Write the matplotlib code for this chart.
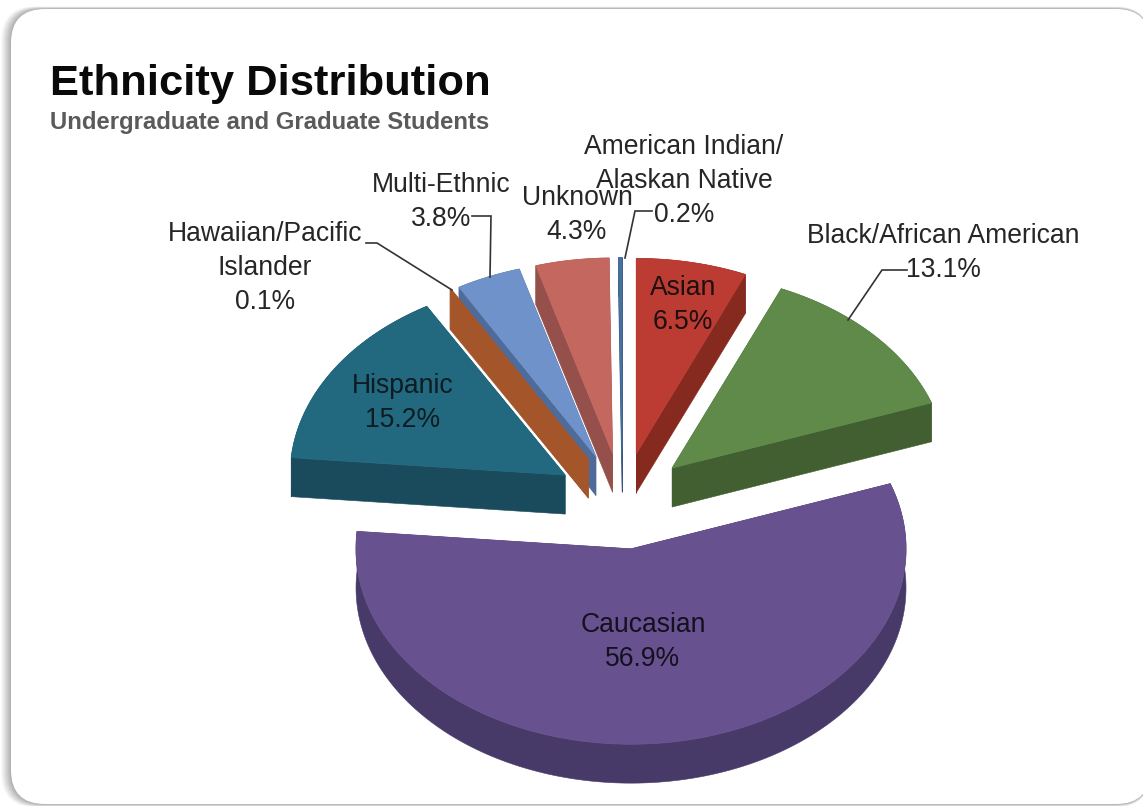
import numpy as np
import matplotlib
matplotlib.use("Agg")
import matplotlib.pyplot as plt
from matplotlib.patches import Polygon, FancyBboxPatch

plt.rcParams['font.family'] = ['Liberation Sans', 'DejaVu Sans']

categories = ["Asian", "Black/African American", "Caucasian", "Hispanic",
              "Hawaiian/Pacific Islander", "Multi-Ethnic", "Unknown",
              "American Indian/Alaskan Native"]
values = [6.5, 13.1, 56.9, 15.2, 0.1, 3.8, 4.3, 0.2]
top_colors = ["#bc3b32", "#5f8a4a", "#67528f", "#22697f", "#a4562a", "#7092ca", "#c4675f", "#46709f"]
wall_colors = ["#86291f", "#425f32", "#483a68", "#1a4b5c", "#a4562a", "#4f6b9a", "#95504c", "#35557c"]
draw_order = [7, 6, 5, 4, 0, 3, 1, 2]

W, H = 1143, 806
CX, CY, RX, SQ, EXPL, DEPTH = 622.5, 501, 275, 0.71, 68, 39

fig = plt.figure(figsize=(W / 100, H / 100), dpi=100, facecolor="white")
ax = fig.add_axes([0, 0, 1, 1])
ax.set_xlim(0, W)
ax.set_ylim(H, 0)
ax.axis("off")

# rounded panel with soft shadow, heavier on the left, thin on the top
PX, PY, PR, PB = 11, 9, 1150, 804
steps = 10
for g in range(steps, 0, -1):
    level = 250 - (steps - g) * 8
    shade = "#%02x%02x%02x" % (level, level, level)
    ax.add_patch(FancyBboxPatch((PX - g, PY - g * 0.25), PR - PX + g, PB - PY + g * 0.25 + g * 0.3,
                                boxstyle="round,pad=0,rounding_size=34", fc=shade, ec="none", zorder=1))
ax.add_patch(FancyBboxPatch((PX, PY), PR - PX, PB - PY, boxstyle="round,pad=0,rounding_size=34",
                            fc="white", ec="none", zorder=1.5))


def pt(ang, r, ox, oy):
    """Clockwise-from-top angle (radians) to pixel position."""
    return ox + r * np.sin(ang), oy - r * np.cos(ang) * SQ


total = sum(values)
edges = np.concatenate([[0], np.cumsum(values)]) / total * 2 * np.pi
z = 3
for idx in draw_order:
    a0, a1 = edges[idx], edges[idx + 1]
    mid = (a0 + a1) / 2
    ox = CX + EXPL * np.sin(mid)
    oy = CY - EXPL * np.cos(mid) * SQ
    arc = np.linspace(a0, a1, max(4, int(np.degrees(a1 - a0))))
    xs, ys = pt(arc, RX, ox, oy)
    rim = np.column_stack([xs, ys])
    rim_low = np.column_stack([xs, ys + DEPTH])
    # cut faces
    for a_edge in (a0, a1):
        ex, ey = pt(a_edge, RX, ox, oy)
        ax.add_patch(Polygon([(ox, oy), (ex, ey), (ex, ey + DEPTH), (ox, oy + DEPTH)],
                             closed=True, fc=wall_colors[idx], ec=wall_colors[idx], lw=0.4, zorder=z))
    # outer wall
    ax.add_patch(Polygon(np.vstack([rim, rim_low[::-1]]), closed=True,
                         fc=wall_colors[idx], ec=wall_colors[idx], lw=0.4, zorder=z))
    # top surface
    ax.add_patch(Polygon(np.vstack([[(ox, oy)], rim]), closed=True,
                         fc=top_colors[idx], ec=top_colors[idx], lw=0.6, zorder=z + 0.5))
    z += 1

# leader lines
leader_col = "#333333"
leaders = [
    [(472, 216), (491, 216), (490, 277)],
    [(366, 243), (377, 243), (452, 290)],
    [(652, 211), (635, 211), (625, 258)],
    [(907, 270), (882, 270), (848, 320)],
]
for seg in leaders:
    p = np.array(seg)
    ax.plot(p[:, 0], p[:, 1], color=leader_col, lw=1.2, zorder=30, solid_joinstyle="miter")

# labels
FS = 19.1
labels = [
    ("Multi-Ethnic\n3.8%", 441, 202, "#262626"),
    ("Hawaiian/Pacific\nIslander\n0.1%", 265, 268, "#262626"),
    ("Unknown\n4.3%", 577, 215, "#262626"),
    ("American Indian/\nAlaskan Native\n0.2%", 684, 181, "#262626"),
    ("Black/African American\n13.1%", 943, 253, "#262626"),
    ("Asian\n6.5%", 683, 305, "#1c1010"),
    ("Hispanic\n15.2%", 403, 403, "#0c1c22"),
    ("Caucasian\n56.9%", 643, 642, "#14101e"),
]
for txt, x, y, c in labels:
    ax.text(x, y, txt, ha="center", va="center", fontsize=FS, color=c, linespacing=1.40, zorder=40)

ax.text(50, 84, "Ethnicity Distribution", fontsize=31.3, fontweight="bold", color="#0a0a0a",
        ha="left", va="center", zorder=40)
ax.text(50, 122, "Undergraduate and Graduate Students", fontsize=17.2, fontweight="bold", color="#5a5a5a",
        ha="left", va="center", zorder=40)

fig.savefig("out.png", dpi=100)
